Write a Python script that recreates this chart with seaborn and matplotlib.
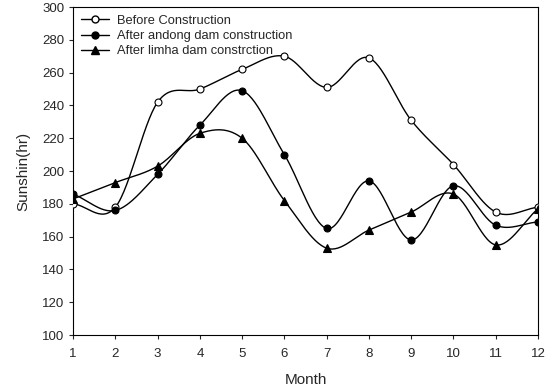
import numpy as np
import pandas as pd
import matplotlib
matplotlib.use("Agg")
import matplotlib.pyplot as plt
import seaborn as sns
from matplotlib.lines import Line2D

# --- data ---
months = [1, 2, 3, 4, 5, 6, 7, 8, 9, 10, 11, 12]
before = [180, 178, 242, 250, 262, 270, 251, 269, 231, 204, 175, 178]
andong = [186, 176, 198, 228, 249, 210, 165, 194, 158, 191, 167, 169]
limha = [183, 193, 203, 223, 220, 182, 153, 164, 175, 186, 155, 177]

series_names = ["Before Construction", "After andong dam construction",
                "After limha dam constrction"]


def smooth(x, y, n=30):
    # catmull-rom style smoothing (like spreadsheet "smoothed line")
    x = np.asarray(x, float)
    y = np.asarray(y, float)
    px = np.concatenate([[2 * x[0] - x[1]], x, [2 * x[-1] - x[-2]]])
    py = np.concatenate([[2 * y[0] - y[1]], y, [2 * y[-1] - y[-2]]])
    xs, ys = [], []
    t = np.linspace(0, 1, n, endpoint=False)
    for i in range(1, len(px) - 2):
        p0, p1, p2, p3 = py[i - 1], py[i], py[i + 1], py[i + 2]
        q0, q1, q2, q3 = px[i - 1], px[i], px[i + 1], px[i + 2]
        f = lambda a0, a1, a2, a3: 0.5 * ((2 * a1) + (-a0 + a2) * t
                                        + (2 * a0 - 5 * a1 + 4 * a2 - a3) * t ** 2
                                        + (-a0 + 3 * a1 - 3 * a2 + a3) * t ** 3)
        xs.append(f(q0, q1, q2, q3))
        ys.append(f(p0, p1, p2, p3))
    xs.append([x[-1]])
    ys.append([y[-1]])
    return np.concatenate(xs), np.concatenate(ys)


sns.set_style("ticks")
plt.rcParams['font.family'] = ['Liberation Sans', 'DejaVu Sans']

fig = plt.figure(figsize=(5.54, 3.91), dpi=100)
ax = fig.add_axes([0.132, 0.143, 0.839, 0.839])

styles = [
    (before, "o", "white"),
    (andong, "o", "black"),
    (limha, "^", "black"),
]

handles = []
for (vals, mk, fc), name in zip(styles, series_names):
    sx, sy = smooth(months, vals)
    sns.lineplot(x=sx, y=sy, ax=ax, color="black", linewidth=1.0, sort=False)
    ms = 5 if mk == "o" else 5.5
    ax.plot(months, vals, linestyle="none", marker=mk, markersize=ms,
            markerfacecolor=fc, markeredgecolor="black", markeredgewidth=0.8, zorder=3)
    handles.append(Line2D([0], [0], color="black", linewidth=1.0, marker=mk,
                          markersize=ms, markerfacecolor=fc, markeredgecolor="black"))

ax.set_xlim(1, 12)
ax.set_ylim(100, 300)
ax.set_xticks(months)
ax.set_yticks(range(100, 301, 20))
ax.tick_params(axis="both", labelsize=9.5, length=3, width=0.8, direction="out")
ax.tick_params(axis="x", pad=6)
for s in ax.spines.values():
    s.set_linewidth(0.8)
    s.set_color("black")

ax.set_xlabel("Month", fontsize=11, labelpad=10)
ax.set_ylabel("Sunshin(hr)", fontsize=11, labelpad=8)

ax.legend(handles, series_names, loc="upper left", frameon=False, fontsize=9.3,
          handlelength=2.2, handletextpad=0.6, labelspacing=0.25,
          borderaxespad=0.2, bbox_to_anchor=(0.0, 1.0))

fig.savefig("out.png", dpi=100)
